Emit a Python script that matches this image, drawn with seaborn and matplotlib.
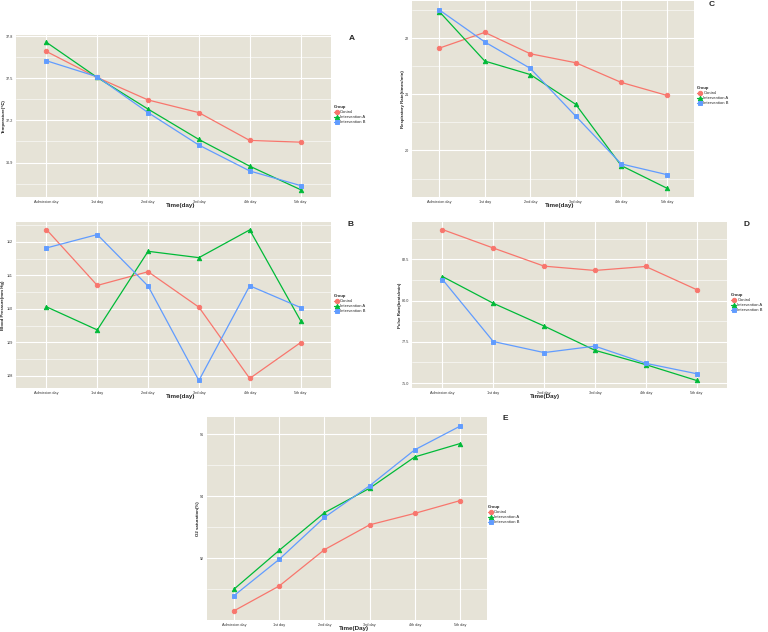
import numpy as np
import pandas as pd
import matplotlib
matplotlib.use('Agg')
import matplotlib.pyplot as plt
from matplotlib.ticker import FixedLocator
import seaborn as sns

# categories
days = ['Admission day', '1st day', '2nd day', '3rd day', '4th day', '5th day']
groups = ['Control', 'Intervention A', 'Intervention B']

# A - temperature
temp_control = [37.69, 37.505, 37.345, 37.255, 37.057, 37.045]
temp_int_a = [37.755, 37.505, 37.28, 37.064, 36.874, 36.707]
temp_int_b = [37.624, 37.51, 37.255, 37.024, 36.84, 36.736]

# C - respiratory rate
resp_control = [21.82, 22.10, 21.72, 21.56, 21.21, 20.98]
resp_int_a = [22.47, 21.59, 21.35, 20.82, 19.73, 19.33]
resp_int_b = [22.50, 21.93, 21.46, 20.61, 19.76, 19.57]

# B - blood pressure
bp_control = [112.37, 110.70, 111.11, 110.05, 107.92, 108.99]
bp_int_a = [110.06, 109.37, 111.72, 111.53, 112.36, 109.65]
bp_int_b = [111.82, 112.22, 110.68, 107.86, 110.69, 110.04]

# D - pulse rate
pulse_control = [84.31, 83.19, 82.09, 81.83, 82.07, 80.67]
pulse_int_a = [81.46, 79.84, 78.46, 76.99, 76.12, 75.16]
pulse_int_b = [81.28, 77.52, 76.85, 77.24, 76.20, 75.57]

# E - O2 saturation
o2_control = [90.31, 91.11, 92.28, 93.08, 93.45, 93.86]
o2_int_a = [91.01, 92.26, 93.47, 94.26, 95.27, 95.70]
o2_int_b = [90.80, 91.97, 93.32, 94.34, 95.50, 96.26]

# y ticks (major) for each panel
temp_ticks = [36.9, 37.2, 37.5, 37.8]
resp_ticks = [20, 21, 22]
bp_ticks = [108, 109, 110, 111, 112]
pulse_ticks = [75.0, 77.5, 80.0, 82.5]
o2_ticks = [92, 94, 96]

palette = {'Control': '#F8766D', 'Intervention A': '#00BA38', 'Intervention B': '#619CFF'}

sns.set_theme(style='darkgrid')
plt.rcParams['font.family'] = ['Liberation Sans', 'DejaVu Sans']
plt.rcParams['axes.facecolor'] = '#E6E3D7'
plt.rcParams['grid.color'] = 'white'

W, H = 768, 632
fig = plt.figure(figsize=(W / 100, H / 100), dpi=100)


def px_rect(x0, y0, x1, y1):
    return [x0 / W, 1 - y1 / H, (x1 - x0) / W, (y1 - y0) / H]


def make_df(a, b, c):
    return pd.DataFrame({
        'Day': days * 3,
        'Value': list(a) + list(b) + list(c),
        'Group': [g for g in groups for _ in days],
    })


def panel(rect, df, ticks, fmt, ylabel, ylab_x, xlabel, xlab_x, letter, letter_pos, leg_pos):
    ax = fig.add_axes(px_rect(*rect))
    sns.pointplot(data=df, x='Day', y='Value', hue='Group', order=days, hue_order=groups,
                  palette=palette, markers=['o', '^', 's'], linestyles=['-', '-', '-'],
                  errorbar=None, markersize=3.2, linewidth=0.9, ax=ax)
    ax.set_xlim(-0.6, len(days) - 0.4)
    lo, hi = df['Value'].min(), df['Value'].max()
    pad = (hi - lo) * 0.05
    ax.set_ylim(lo - pad, hi + pad)
    step = ticks[1] - ticks[0]
    minors = [t - step / 2 for t in ticks] + [ticks[-1] + step / 2]
    ax.yaxis.set_major_locator(FixedLocator(ticks))
    ax.yaxis.set_minor_locator(FixedLocator(minors))
    ax.set_yticklabels([fmt.format(t) for t in ticks])
    ax.grid(True, which='major', color='white', linewidth=0.8)
    ax.grid(True, which='minor', axis='y', color='white', linewidth=0.4)
    ax.tick_params(axis='both', which='major', labelsize=2.7, length=1.5, width=0.4,
                   color='#555555', pad=0.8, labelcolor='#333333')
    ax.tick_params(axis='y', which='minor', length=0)
    for s in ax.spines.values():
        s.set_visible(False)
    ax.set_ylabel(ylabel, fontsize=3.2, fontweight='bold')
    # right edge of the rotated y title, in pixels
    ax.yaxis.set_label_coords((ylab_x - rect[0]) / (rect[2] - rect[0]), 0.5)
    ax.set_xlabel('')
    # x title sits just under the tick labels, a bit right of centre
    fig.text(xlab_x / W, 1 - (rect[3] + 8.6) / H, xlabel, fontsize=4.5,
             fontweight='bold', ha='center', va='center')
    fig.text(letter_pos[0] / W, 1 - letter_pos[1] / H, letter, fontsize=6,
             fontweight='bold', ha='center', va='center')
    handles, labels = ax.get_legend_handles_labels()
    ax.legend(handles, labels, title='Group', loc='upper left',
              bbox_to_anchor=(leg_pos[0] / W, 1 - leg_pos[1] / H),
              bbox_transform=fig.transFigure, frameon=False, fontsize=3,
              title_fontproperties={'size': 3, 'weight': 'bold'}, alignment='left',
              handlelength=1.2, handletextpad=0.3, labelspacing=0.25,
              borderpad=0, borderaxespad=0, markerscale=1.0)
    return ax


panel((16, 35, 331, 197), make_df(temp_control, temp_int_a, temp_int_b), temp_ticks,
      '{:.1f}', 'Temperature(℃)', 5.5, 'Time(day)', 181, 'A', (352, 39), (334, 105))
panel((412, 1, 694, 197), make_df(resp_control, resp_int_a, resp_int_b), resp_ticks,
      '{:.0f}', 'Respiratory Rate(times/min)', 405, 'Time(day)', 560, 'C', (712, 4), (697, 86))
panel((16, 222, 331, 388), make_df(bp_control, bp_int_a, bp_int_b), bp_ticks,
      '{:.0f}', 'Blood Pressure(mm Hg)', 5.5, 'Time(day)', 181, 'B', (351, 225), (334, 294))
panel((412, 222, 727, 388), make_df(pulse_control, pulse_int_a, pulse_int_b), pulse_ticks,
      '{:.1f}', 'Pulse Rate(beats/min)', 401.5, 'Time(Day)', 545, 'D', (747, 224), (731, 293))
panel((207, 417, 487, 620), make_df(o2_control, o2_int_a, o2_int_b), o2_ticks,
      '{:.0f}', 'O2 saturation(%)', 200, 'Time(Day)', 354, 'E', (505, 419), (488, 505))

fig.savefig('out.png', dpi=100, facecolor='white')
